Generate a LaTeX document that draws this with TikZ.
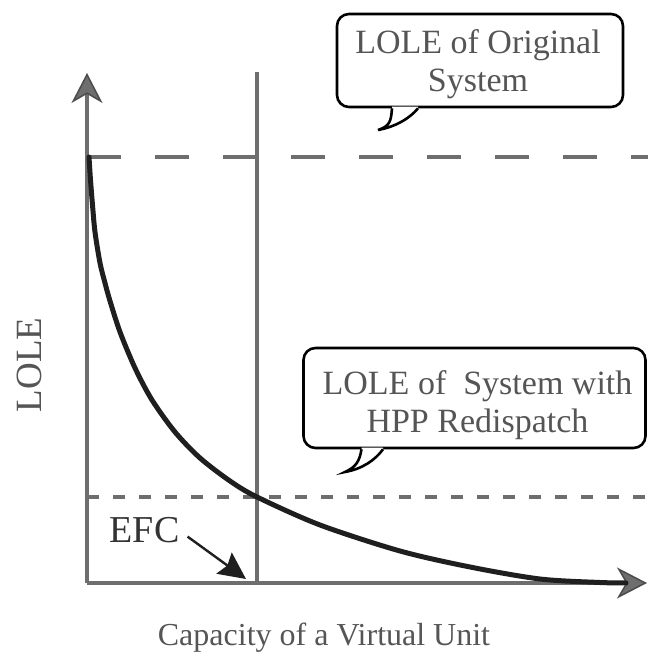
\documentclass[tikz,border=0pt]{standalone}
\usepackage{fontspec}
\setmainfont{Liberation Serif}
\usetikzlibrary{arrows.meta}
\definecolor{axisgray}{RGB}{110,110,110}
\definecolor{textgray}{RGB}{85,85,85}
\begin{document}
\begin{tikzpicture}[x=1pt,y=1pt,
  guide/.style={draw=axisgray,line width=3.5pt},
  axis/.style={guide,-{Stealth[length=30pt,width=31pt,inset=9pt,line width=1.5pt,color=black!70,fill=axisgray]}},
  lole/.style={black!88,line width=5pt,line cap=round},
  bubble/.style={draw,line width=2.6pt,rounded corners=12pt,fill=white},
  tailline/.style={line width=2.6pt},
  bubbletext/.style={text=textgray,align=center,inner sep=0pt,font=\fontsize{34}{38}\selectfont},
  axlabel/.style={text=textgray,inner sep=0pt},
  efcarrow/.style={black!88,line width=2.4pt,-{Stealth[length=27pt,width=26pt,inset=4pt]}}]

\useasboundingbox (0,0) rectangle (648,660);

% LOLE levels and the EFC line
\coordinate (O) at (87,77);
\draw[guide,dash pattern=on 34pt off 34pt] (87,503) -- (648,503);
\draw[guide,dash pattern=on 12pt off 14pt] (87,163) -- (648,163);
\draw[guide] (257,77) -- (257,588);

% axes
\draw[axis] (O) -- (87,587) coordinate (ytip);
\draw[axis] (O) -- (647,77) coordinate (xtip);

% LOLE vs. capacity
\draw[lole] plot[smooth,tension=0.5] coordinates {(89,503) (90.5,480) (92.5,455) (95,428) (100,397) (105,377)
  (110,359) (120,328) (135,292) (152,260) (175,228) (200,202) (230,179) (257,163) (320,135)
  (400,109) (470,93) (540,81) (600,77.5) (626,77)};

% callout: original system
\node[bubble,minimum width=286pt,minimum height=93pt] (orig) at (480,599.5) {};
\coordinate (origtip) at (378,530);
\fill[white] ([xshift=-88pt,yshift=1.6pt]orig.south) -- ([xshift=-88pt]orig.south)
  .. controls +(-1,-13) and +(12,4) .. (origtip)
  .. controls +(17,3) and +(-8,-10) .. ([xshift=-62pt]orig.south) -- ([xshift=-62pt,yshift=1.6pt]orig.south) -- cycle;
\draw[tailline] ([xshift=-88pt]orig.south) .. controls +(-1,-13) and +(12,4) .. (origtip)
  .. controls +(17,3) and +(-8,-10) .. ([xshift=-62pt]orig.south);
\node[bubbletext] (origtext) at (478,596) {LOLE of Original\\System};

% callout: system with HPP redispatch
\node[bubble,minimum width=342pt,minimum height=100pt] (hpp) at (474.5,262) {};
\coordinate (hpptip) at (345,188);
\fill[white] ([xshift=-113pt,yshift=1.6pt]hpp.south) -- ([xshift=-113pt]hpp.south)
  .. controls +(-2,-12) and +(11,5) .. (hpptip)
  .. controls +(17,3) and +(-8,-11) .. ([xshift=-91.5pt]hpp.south) -- ([xshift=-91.5pt,yshift=1.6pt]hpp.south) -- cycle;
\draw[tailline] ([xshift=-113pt]hpp.south) .. controls +(-2,-12) and +(11,5) .. (hpptip)
  .. controls +(17,3) and +(-8,-11) .. ([xshift=-91.5pt]hpp.south);
\node[bubbletext] (hpptext) at (477.5,254.5) {LOLE of~ System with\\HPP Redispatch};

% labels
\node[axlabel,font=\fontsize{32}{36}\selectfont,anchor=base] (xlabel) at (324,14) {Capacity of a Virtual Unit};
\node[axlabel,font=\fontsize{37}{40}\selectfont,rotate=90,anchor=base] (ylabel) at (41.5,295) {LOLE};
\node[axlabel,text=black!80,font=\fontsize{38}{40}\selectfont,anchor=base] (efc) at (144.5,117) {EFC};
\coordinate (efctip) at (246,81);
\draw[efcarrow] ([xshift=8pt,yshift=-6pt]efc.east) -- (efctip);
\end{tikzpicture}
\end{document}
